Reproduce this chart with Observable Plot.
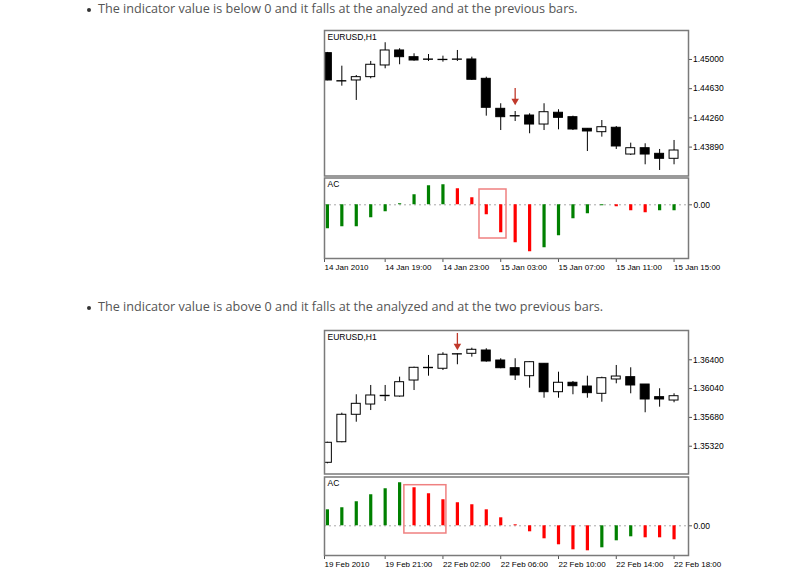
<!DOCTYPE html>
<html><head><meta charset="utf-8">
<script src="https://cdn.jsdelivr.net/npm/d3@7"></script>
<script src="https://cdn.jsdelivr.net/npm/@observablehq/plot@0.6"></script>
<style>
html,body{margin:0;padding:0;background:#fff;}
body{width:800px;height:568px;position:relative;overflow:hidden;}
.abs{position:absolute;}
.abs svg{display:block;overflow:visible;}
.note{position:absolute;left:98px;font-family:"Open Sans",sans-serif;color:#555;white-space:nowrap;line-height:16px;}
.note::before{content:"";position:absolute;left:-11px;top:7px;width:4px;height:4px;border-radius:2px;background:#333;}
</style></head><body>
<div id="n1" class="note" style="top:1px">The indicator value is below 0 and it falls at the analyzed and at the previous bars.</div>
<div id="n2" class="note" style="top:299px">The indicator value is above 0 and it falls at the analyzed and at the two previous bars.</div>
<div id="p1" class="abs" style="left:323px;top:29px"></div>
<div id="a1" class="abs" style="left:323px;top:176px"></div>
<div id="p2" class="abs" style="left:323px;top:329px"></div>
<div id="a2" class="abs" style="left:323px;top:475px"></div>
<script>
// ---------- Chart 1: EURUSD,H1 14–15 Jan 2010 ----------
const c1Open  = [1.45080,1.44725,1.44734,1.44776,1.44924,1.45114,1.45029,1.45000,1.44996,1.44996,1.45000,1.44755,1.44375,1.44282,1.44290,1.44176,1.44325,1.44269,1.44122,1.44079,1.44135,1.43796,1.43876,1.43805,1.43742];
const c1High  = [1.45089,1.44915,1.44797,1.44975,1.45212,1.45136,1.45072,1.45063,1.45042,1.45114,1.45029,1.44776,1.44439,1.44341,1.44312,1.44439,1.44363,1.44282,1.44122,1.44227,1.44151,1.43940,1.43932,1.43860,1.43974];
const c1Low   = [1.44730,1.44662,1.44481,1.44755,1.44882,1.44933,1.44978,1.44975,1.44966,1.44975,1.44734,1.44282,1.44100,1.44214,1.44059,1.44100,1.44109,1.44100,1.43834,1.44016,1.43860,1.43784,1.43666,1.43594,1.43666];
const c1Close = [1.44734,1.44721,1.44776,1.44933,1.45114,1.45029,1.44987,1.44996,1.44992,1.45000,1.44743,1.44388,1.44269,1.44278,1.44176,1.44332,1.44261,1.44113,1.44088,1.44142,1.43898,1.43876,1.43796,1.43742,1.43847];
const c1PriceTicks = [1.45000,1.44630,1.44260,1.43890];
const c1PriceDomain = [1.43524,1.45367];
const c1AC = [-0.0024,-0.0022,-0.0022,-0.0013,-0.0007,0.0001,0.0010,0.0019,0.0020,0.0016,0.0007,-0.0010,-0.0028,-0.0038,-0.0047,-0.0043,-0.0031,-0.0014,-0.0009,-0.0001,-0.0002,-0.0006,-0.0008,-0.0006,-0.0006];
const c1ACDir = ["up","up","up","up","up","up","up","up","up","down","down","down","down","down","down","up","up","up","up","up","down","down","down","up","up"];
const c1ACDomain = [-0.00537,0.00268];
const c1TimePos = [-0.2,4,8,12,16,20,24];
const c1TimeLabels = ["14 Jan 2010","14 Jan 19:00","14 Jan 23:00","15 Jan 03:00","15 Jan 07:00","15 Jan 11:00","15 Jan 15:00"];
const c1Arrow = {i:13, top:1.44633, tip:1.44443};
const c1Box = {x1:10.53, x2:12.40, y1:0.00153, y2:-0.00337};

// ---------- Chart 2: EURUSD,H1 19–22 Feb 2010 ----------
const c2Open  = [1.35113,1.35370,1.35713,1.35841,1.35945,1.35941,1.36141,1.36295,1.36288,1.36466,1.36475,1.36516,1.36391,1.36295,1.36195,1.36350,1.35995,1.36113,1.36066,1.35975,1.36154,1.36183,1.36091,1.35933,1.35891];
const c2High  = [1.35370,1.35733,1.35963,1.36079,1.36079,1.36183,1.36308,1.36454,1.36488,1.36475,1.36545,1.36538,1.36413,1.36413,1.36375,1.36350,1.36245,1.36129,1.36195,1.36183,1.36329,1.36300,1.36091,1.36038,1.35975];
const c2Low   = [1.35100,1.35363,1.35620,1.35766,1.35879,1.35933,1.36016,1.36195,1.36266,1.36338,1.36433,1.36370,1.36288,1.36141,1.36045,1.35920,1.35920,1.35963,1.35920,1.35870,1.36100,1.35975,1.35738,1.35808,1.35863];
const c2Close = [1.35363,1.35713,1.35850,1.35954,1.35950,1.36120,1.36300,1.36300,1.36463,1.36470,1.36525,1.36379,1.36295,1.36204,1.36370,1.35995,1.36113,1.36070,1.35983,1.36170,1.36191,1.36079,1.35904,1.35904,1.35945];
const c2PriceTicks = [1.36400,1.36040,1.35680,1.35320];
const c2PriceDomain = [1.34973,1.36766];
const c2AC = [0.0016,0.0018,0.0024,0.0031,0.0037,0.0043,0.0038,0.0032,0.0026,0.0023,0.0021,0.0016,0.0008,0.0001,-0.0006,-0.0013,-0.0019,-0.0024,-0.0025,-0.0022,-0.0015,-0.0011,-0.0012,-0.0012,-0.0014];
const c2ACDir = ["up","up","up","up","up","up","down","down","down","down","down","down","down","down","down","down","down","down","down","up","up","up","down","down","down"];
const c2ACDomain = [-0.00297,0.00488];
const c2TimePos = [-0.2,4,8,12,16,20,24];
const c2TimeLabels = ["19 Feb 2010","19 Feb 21:00","22 Feb 02:00","22 Feb 06:00","22 Feb 10:00","22 Feb 14:00","22 Feb 18:00"];
const c2Arrow = {i:9, top:1.36729, tip:1.36541};
const c2Box = {x1:5.33, x2:8.24, y1:0.00406, y2:-0.00077};

const symbol = "EURUSD,H1";
const X_DOMAIN = [-0.2, 25];
const FONT = "Liberation Sans, Arial, sans-serif";
const GREEN = "#008000", RED = "#ff0000", FRAME = "#7a7a7a";
const W = 407, ML = 1, MR = 42;

function pricePanel(o) {
  const bars = o.open.map((v, i) => ({i, open: v, high: o.high[i], low: o.low[i], close: o.close[i]}));
  return Plot.plot({
    width: W, height: o.height,
    marginLeft: ML, marginRight: MR, marginTop: o.mt, marginBottom: o.mb,
    style: {fontFamily: FONT, fontSize: "8.5px", color: "#000", background: "transparent"},
    x: {domain: X_DOMAIN, axis: null},
    y: {domain: o.domain, axis: null},
    marks: [
      Plot.ruleX(bars, {x: "i", y1: "low", y2: "high", stroke: "#000", strokeWidth: 1, clip: true}),
      Plot.rect(bars, {x1: d => d.i - 0.31, x2: d => d.i + 0.31, y1: "open", y2: "close",
        fill: d => d.close >= d.open ? "#fff" : "#000", stroke: "#000", strokeWidth: 1, clip: true}),
      Plot.ruleX([o.arrow], {x: "i", y1: "top", y2: "tip", stroke: "#c0392b", strokeWidth: 1.3}),
      Plot.dot([o.arrow], {x: "i", y: "tip", dy: -2.5, symbol: "triangle", rotate: 180, r: 2.8, fill: "#c0392b", stroke: "none"}),
      Plot.text([symbol], {frameAnchor: "top-left", dx: 3, dy: 3, fontSize: 8.5, fill: "#000"}),
      Plot.axisY({anchor: "right", ticks: o.ticks, tickFormat: d3.format(".5f"), tickSize: 3, tickPadding: 1.5, fontSize: 8.5, stroke: "#555", fill: "#000"}),
      Plot.frame({stroke: FRAME, strokeWidth: 1.5})
    ]
  });
}

function acPanel(o) {
  const bars = o.values.map((v, i) => ({i, v, dir: o.dirs[i]}));
  const labelAt = new Map(o.timePos.map((p, k) => [p, o.timeLabels[k]]));
  return Plot.plot({
    width: W, height: o.height,
    marginLeft: ML, marginRight: MR, marginTop: o.mt, marginBottom: o.mb,
    style: {fontFamily: FONT, fontSize: "8px", color: "#000", background: "transparent"},
    x: {domain: X_DOMAIN, axis: null},
    y: {domain: o.domain, axis: null},
    marks: [
      Plot.ruleY([0], {stroke: "#a8a8a8", strokeDasharray: "2,3"}),
      Plot.ruleX(bars, {x: "i", y1: 0, y2: "v", stroke: d => d.dir === "up" ? GREEN : RED, strokeWidth: 3.2, clip: true}),
      Plot.rect([o.box], {x1: "x1", x2: "x2", y1: "y1", y2: "y2", fill: "none", stroke: "#ef8080", strokeWidth: 1.5}),
      Plot.text(["AC"], {frameAnchor: "top-left", dx: 3, dy: 3, fontSize: 8.5, fill: "#000"}),
      Plot.axisY({anchor: "right", ticks: [0], tickFormat: d3.format(".2f"), tickSize: 3, tickPadding: 2, fontSize: 8.5, stroke: "#555", fill: "#000"}),
      Plot.axisX({anchor: "bottom", ticks: o.timePos, tickFormat: d => labelAt.get(d), textAnchor: "start",
        tickSize: 4, tickPadding: 2, fontSize: 8, stroke: "#555", fill: "#000"}),
      Plot.frame({stroke: FRAME, strokeWidth: 1.5})
    ]
  });
}

document.getElementById("p1").append(pricePanel({open: c1Open, high: c1High, low: c1Low, close: c1Close,
  domain: c1PriceDomain, ticks: c1PriceTicks, arrow: c1Arrow, height: 148, mt: 1, mb: 1.5}));
document.getElementById("a1").append(acPanel({values: c1AC, dirs: c1ACDir, domain: c1ACDomain, box: c1Box,
  timePos: c1TimePos, timeLabels: c1TimeLabels, height: 102, mt: 1.5, mb: 20}));
document.getElementById("p2").append(pricePanel({open: c2Open, high: c2High, low: c2Low, close: c2Close,
  domain: c2PriceDomain, ticks: c2PriceTicks, arrow: c2Arrow, height: 146, mt: 1, mb: 1.5}));
document.getElementById("a2").append(acPanel({values: c2AC, dirs: c2ACDir, domain: c2ACDomain, box: c2Box,
  timePos: c2TimePos, timeLabels: c2TimeLabels, height: 93, mt: 1.5, mb: 13}));

// fit the note font so the first sentence spans the same width as the reference
(function fitNotes() {
  const ctx = document.createElement("canvas").getContext("2d");
  ctx.font = "12px 'Open Sans'";
  const w = ctx.measureText(document.getElementById("n1").textContent).width;
  const size = Math.max(10, Math.min(14, 12 * 480 / w));
  for (const id of ["n1", "n2"]) document.getElementById(id).style.fontSize = size.toFixed(2) + "px";
})();
</script>
</body></html>
